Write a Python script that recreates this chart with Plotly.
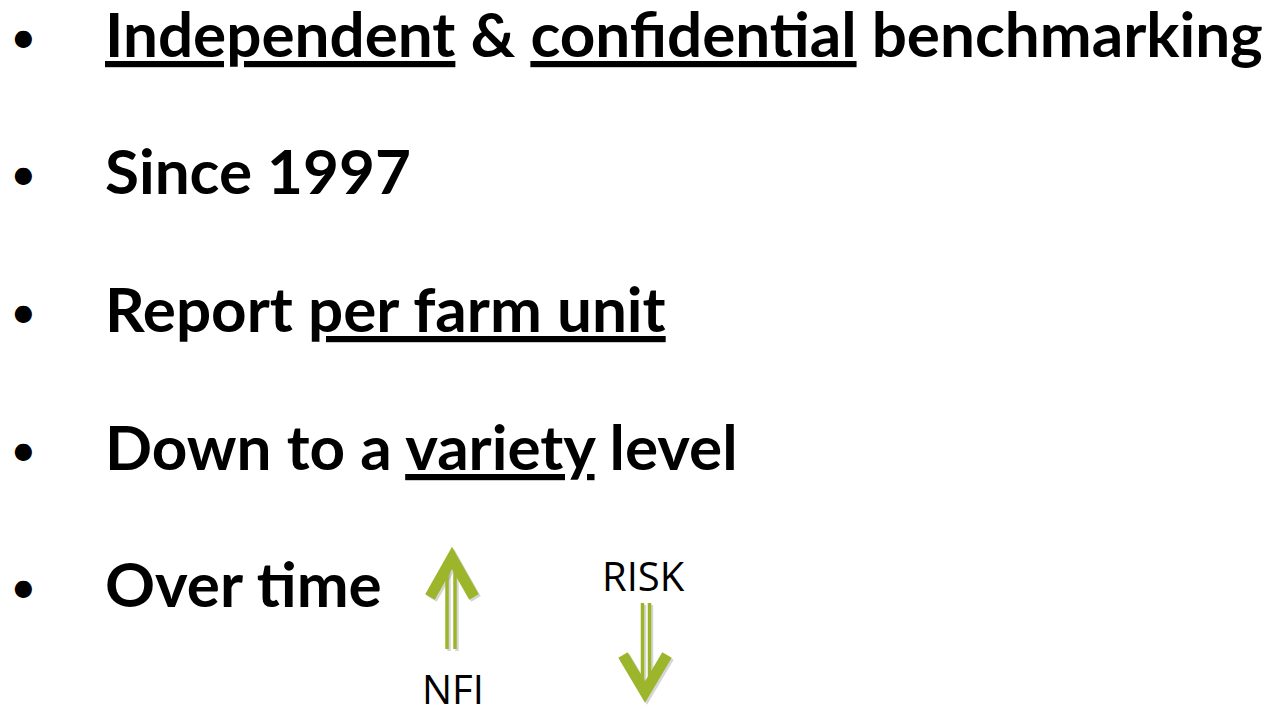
import plotly.graph_objects as go

bullet_lines = [
    "<u>Independent</u> & <u>confidential</u> benchmarking",
    "Since 1997",
    "Report <u>per farm unit</u>",
    "Down to a <u>variety</u> level",
    "Over time",
]
line_y = [33, 170, 308, 446, 583]
labels = ["NFI", "RISK"]
label_pos = [(453, 688), (643, 575)]

GREEN = "#9CB62B"
W, H = 1279, 709

fig = go.Figure()
fig.add_trace(go.Scatter(x=[0, W], y=[0, H], mode="markers", marker=dict(opacity=0), hoverinfo="skip", showlegend=False))

ann = []
for t, y in zip(bullet_lines, line_y):
    ann.append(dict(x=8, y=y + 2, xref="x", yref="y", text="•", showarrow=False,
                    xanchor="left", yanchor="middle",
                    font=dict(family="Lato", size=46, color="black")))
    ann.append(dict(x=103, y=y, xref="x", yref="y", text="<b>" + t + "</b>", showarrow=False,
                    xanchor="left", yanchor="middle",
                    font=dict(family="Lato", size=62, color="black")))
for lab, (x, y) in zip(labels, label_pos):
    ann.append(dict(x=x, y=y, xref="x", yref="y", text=lab, showarrow=False,
                    xanchor="center", yanchor="middle",
                    font=dict(family="Open Sans", size=40, color="black")))

shapes = []
def arrow(tip, arm_l, arm_r, shaft_x, shaft_y, off):
    for dx, dy, col in [(off, off, "rgba(120,120,120,0.3)"), (0, 0, GREEN)]:
        shapes.append(dict(type="path", xref="x", yref="y",
                           path=f"M {arm_l[0]+dx},{arm_l[1]+dy} L {tip[0]+dx},{tip[1]+dy} L {arm_r[0]+dx},{arm_r[1]+dy}",
                           line=dict(color=col, width=11)))
        for sx in shaft_x:
            shapes.append(dict(type="line", xref="x", yref="y",
                               x0=sx+dx, x1=sx+dx, y0=shaft_y[0]+dy, y1=shaft_y[1]+dy,
                               line=dict(color=col, width=3.5)))

arrow((452, 558), (430, 597), (474, 597), (447, 455), (570, 649), 2)
arrow((645, 692), (623, 655), (667, 655), (642.5, 649.5), (603, 682), 2)

fig.update_layout(
    width=W, height=H, margin=dict(l=0, r=0, t=0, b=0),
    paper_bgcolor="white", plot_bgcolor="white",
    xaxis=dict(range=[0, W], visible=False, fixedrange=True),
    yaxis=dict(range=[H, 0], visible=False, fixedrange=True),
    annotations=ann, shapes=shapes, showlegend=False,
)
fig.write_html("out.html", config={"displayModeBar": False},
               post_script="document.body.style.margin='0';document.body.style.overflow='hidden';")
